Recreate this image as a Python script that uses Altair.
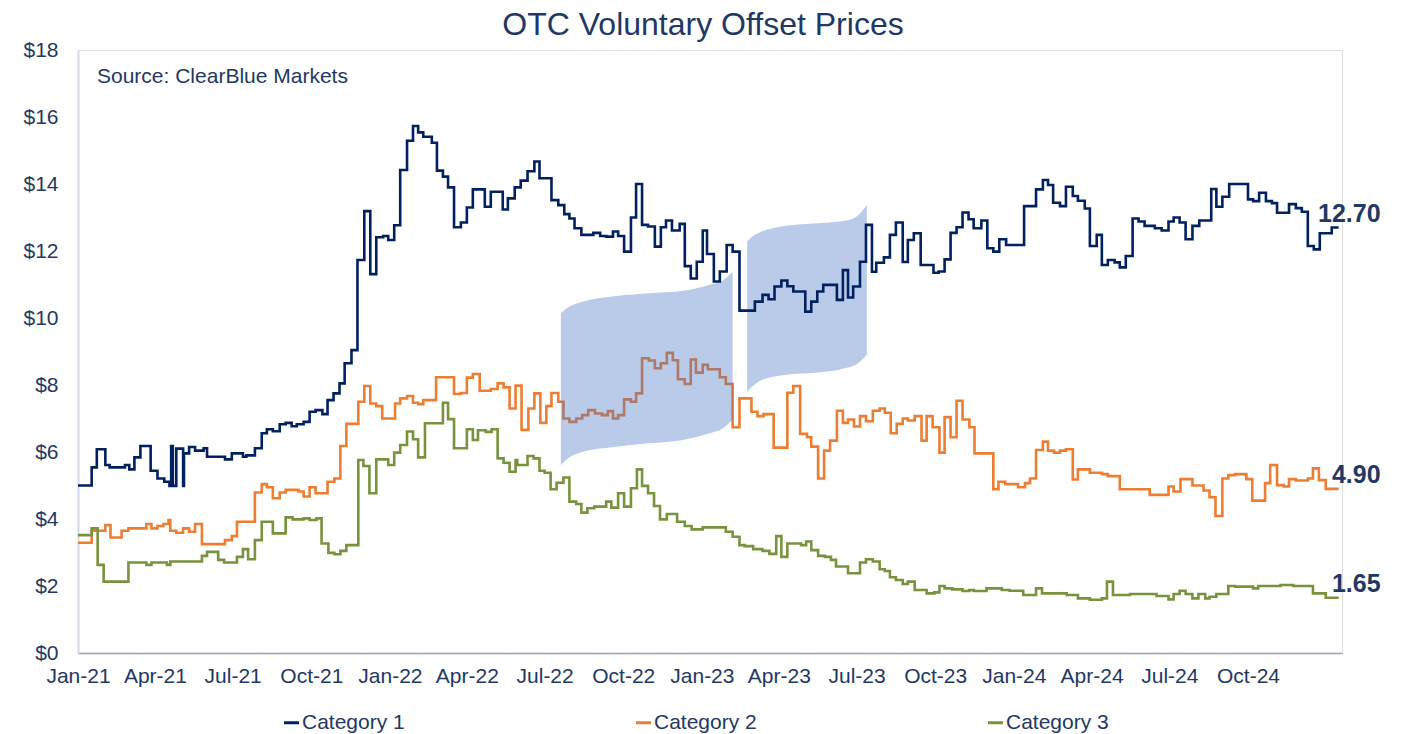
import altair as alt
import pandas as pd

START = pd.Timestamp("2021-01-01")
FONT = "Liberation Sans"
NAVY_TXT = "#1F3864"

# ---- data: change points (days since 2021-01-01, price in $) ----
cat1_day = [0, 16, 22, 32, 37, 55, 60, 66, 73, 85, 93, 101, 107, 109, 111, 115, 123, 124, 130, 137,
            147, 151, 172, 180, 193, 197, 207, 215, 221, 228, 236, 243, 250, 256, 264, 271, 278, 286, 292, 299,
            306, 312, 320, 327, 335, 342, 349, 357, 363, 370, 377, 385, 392, 398, 404, 414, 420, 427, 433, 440,
            448, 455, 462, 476, 483, 497, 503, 511, 518, 526, 534, 540, 554, 562, 569, 575, 581, 589, 603, 611,
            618, 626, 632, 639, 647, 653, 660, 667, 675, 682, 688, 695, 704, 710, 717, 724, 731, 736, 744, 751,
            759, 766, 774, 792, 801, 808, 815, 823, 830, 837, 851, 858, 865, 872, 888, 895, 901, 907, 915, 922,
            929, 934, 943, 950, 957, 965, 971, 978, 986, 1001, 1007, 1014, 1021, 1028, 1035, 1042, 1048, 1057, 1064, 1071,
            1078, 1086, 1107, 1121, 1129, 1135, 1141, 1149, 1156, 1164, 1170, 1178, 1184, 1192, 1198, 1205, 1213, 1219, 1226, 1234,
            1241, 1248, 1260, 1268, 1276, 1282, 1289, 1296, 1304, 1312, 1326, 1332, 1339, 1347, 1369, 1375, 1382, 1390, 1397, 1403,
            1417, 1425, 1432, 1439, 1446, 1453, 1467, 1475]
cat1_val = [5.00, 5.54, 6.08, 5.61, 5.54, 5.61, 5.48, 5.84, 6.18, 5.44, 5.21, 5.11, 4.99, 6.18, 4.99, 6.10, 4.99, 5.96, 6.15, 6.04,
            6.11, 5.86, 5.78, 5.96, 5.86, 5.90, 6.11, 6.56, 6.68, 6.62, 6.83, 6.87, 6.77, 6.83, 6.90, 7.20, 7.25, 7.13, 7.55, 7.75,
            8.05, 8.65, 9.04, 11.73, 13.19, 11.31, 12.41, 12.45, 12.33, 12.77, 14.42, 15.29, 15.73, 15.54, 15.41, 15.23, 14.40, 14.22, 13.90, 12.71,
            12.85, 13.30, 13.84, 13.32, 13.77, 13.24, 13.57, 13.90, 14.10, 14.38, 14.67, 14.17, 13.52, 13.37, 13.10, 12.97, 12.68, 12.48, 12.54, 12.45,
            12.43, 12.58, 12.45, 11.98, 13.00, 14.00, 12.78, 12.73, 12.13, 12.71, 12.91, 12.61, 12.81, 11.55, 11.18, 11.68, 12.61, 11.91, 11.09, 11.39,
            12.18, 11.98, 10.22, 10.49, 10.69, 10.56, 10.94, 11.12, 10.95, 10.79, 10.19, 10.49, 10.79, 10.99, 10.54, 11.43, 10.61, 10.94, 11.68, 12.78,
            11.38, 11.65, 11.81, 12.48, 12.85, 11.67, 12.33, 12.53, 11.58, 11.35, 11.39, 11.75, 12.54, 12.71, 13.15, 12.95, 12.68, 12.91, 12.08, 11.98,
            12.35, 12.18, 13.34, 13.84, 14.12, 13.97, 13.44, 13.34, 13.92, 13.64, 13.50, 13.27, 12.15, 12.48, 11.58, 11.73, 11.66, 11.51, 11.85, 12.97,
            12.88, 12.75, 12.68, 12.61, 12.88, 13.00, 12.85, 12.35, 12.75, 12.91, 13.85, 13.32, 13.62, 14.00, 13.54, 13.49, 13.74, 13.49, 13.43, 13.14,
            13.40, 13.28, 13.17, 12.15, 12.05, 12.53, 12.70, 12.70]

cat2_day = [0, 16, 32, 38, 51, 59, 80, 86, 93, 100, 106, 108, 115, 123, 130, 137, 145, 172, 180, 186,
            207, 215, 221, 228, 236, 243, 258, 264, 271, 278, 292, 300, 307, 314, 328, 335, 342, 349, 356, 371,
            377, 385, 392, 398, 404, 419, 440, 448, 455, 462, 470, 483, 491, 498, 505, 512, 519, 527, 534, 541,
            548, 554, 562, 568, 575, 583, 590, 597, 605, 613, 620, 626, 632, 639, 647, 653, 660, 668, 675, 682,
            689, 696, 702, 710, 717, 723, 731, 737, 751, 758, 766, 774, 788, 795, 802, 814, 830, 837, 845, 853,
            858, 866, 873, 880, 888, 895, 901, 908, 915, 922, 930, 938, 944, 951, 958, 965, 971, 979, 987, 993,
            1000, 1008, 1014, 1021, 1028, 1035, 1043, 1049, 1071, 1077, 1085, 1100, 1108, 1114, 1121, 1129, 1135, 1142, 1149, 1156,
            1164, 1170, 1184, 1198, 1205, 1219, 1254, 1276, 1282, 1290, 1304, 1317, 1324, 1331, 1339, 1346, 1354, 1367, 1374, 1389,
            1395, 1403, 1411, 1417, 1425, 1439, 1445, 1452, 1460, 1475]
cat2_val = [3.29, 3.65, 3.82, 3.45, 3.65, 3.72, 3.85, 3.72, 3.79, 3.85, 3.97, 3.65, 3.59, 3.72, 3.62, 3.85, 3.25, 3.37, 3.49, 3.92,
            4.79, 5.04, 4.95, 4.62, 4.79, 4.87, 4.82, 4.67, 4.95, 4.77, 5.11, 5.21, 6.18, 6.84, 7.50, 7.97, 7.45, 7.37, 7.00, 7.45,
            7.60, 7.67, 7.47, 7.43, 7.55, 8.23, 7.73, 7.76, 8.22, 8.33, 7.83, 7.88, 8.05, 7.93, 7.30, 7.98, 6.66, 7.30, 7.75, 6.87,
            7.37, 7.76, 7.50, 7.00, 6.90, 7.00, 7.10, 7.25, 7.15, 7.10, 7.22, 7.00, 7.10, 7.57, 7.50, 7.75, 8.80, 8.73, 8.50, 8.65,
            8.96, 8.74, 8.17, 8.03, 8.76, 8.37, 8.60, 8.47, 8.23, 8.03, 6.74, 7.60, 7.20, 7.07, 7.13, 6.13, 7.77, 7.97, 6.54, 6.44,
            6.16, 5.21, 6.04, 6.34, 7.23, 6.87, 6.97, 6.76, 7.07, 6.92, 7.23, 7.30, 7.17, 6.56, 6.84, 7.00, 6.94, 7.07, 6.34, 7.07,
            6.74, 5.98, 7.04, 6.44, 7.53, 6.97, 6.74, 5.96, 4.89, 5.11, 5.04, 4.95, 5.07, 5.21, 6.06, 6.31, 6.04, 5.98, 6.04, 6.08,
            5.18, 5.48, 5.38, 5.34, 5.28, 4.89, 4.72, 4.97, 4.82, 5.19, 5.00, 4.85, 4.65, 4.09, 5.21, 5.31, 5.34, 5.19, 4.55, 5.07,
            5.61, 5.01, 4.97, 5.19, 5.15, 5.21, 5.51, 5.16, 4.90, 4.90]

cat3_day = [0, 16, 23, 30, 59, 80, 86, 104, 108, 145, 151, 164, 171, 186, 193, 199, 207, 215, 228, 243,
            251, 264, 271, 279, 285, 293, 300, 307, 314, 328, 334, 341, 349, 363, 370, 377, 385, 392, 398, 406,
            427, 433, 440, 455, 462, 468, 477, 484, 491, 498, 505, 512, 514, 526, 533, 540, 546, 553, 560, 568,
            575, 583, 589, 596, 604, 618, 624, 632, 639, 647, 654, 660, 667, 674, 681, 689, 701, 710, 718, 731,
            758, 766, 774, 780, 790, 801, 809, 817, 823, 830, 846, 852, 858, 866, 874, 881, 887, 901, 915, 922,
            930, 938, 944, 950, 957, 965, 971, 979, 993, 1002, 1008, 1014, 1023, 1035, 1043, 1048, 1063, 1081, 1090, 1106,
            1121, 1128, 1157, 1170, 1184, 1198, 1204, 1211, 1231, 1262, 1276, 1282, 1289, 1296, 1304, 1311, 1319, 1324, 1332, 1346,
            1354, 1375, 1381, 1407, 1422, 1445, 1460, 1475]
cat3_val = [3.52, 3.72, 2.63, 2.13, 2.70, 2.63, 2.70, 2.63, 2.73, 2.90, 3.02, 2.78, 2.70, 2.87, 3.10, 2.80, 3.37, 3.92, 3.57, 4.05,
            3.99, 4.02, 3.97, 4.02, 3.27, 2.99, 2.95, 3.05, 3.22, 5.76, 5.58, 4.77, 5.78, 5.61, 5.98, 6.21, 6.61, 6.38, 5.84, 6.86,
            7.47, 6.98, 6.11, 6.68, 6.36, 6.65, 6.60, 6.68, 5.81, 5.68, 5.41, 5.76, 5.61, 5.88, 5.81, 5.44, 5.38, 4.89, 5.08, 5.24,
            4.52, 4.45, 4.19, 4.32, 4.37, 4.52, 4.34, 4.77, 4.37, 4.92, 5.48, 4.99, 4.77, 4.39, 3.99, 4.15, 3.92, 3.79, 3.69, 3.75,
            3.62, 3.47, 3.22, 3.19, 3.10, 3.05, 2.96, 3.49, 2.87, 3.27, 3.22, 3.33, 3.07, 2.90, 2.87, 2.78, 2.58, 2.38, 2.70, 2.80,
            2.73, 2.50, 2.45, 2.26, 2.18, 2.06, 2.13, 1.88, 1.78, 1.81, 2.00, 1.93, 1.90, 1.85, 1.88, 1.85, 1.93, 1.88, 1.86, 1.73,
            1.93, 1.78, 1.73, 1.63, 1.59, 1.63, 2.13, 1.73, 1.76, 1.70, 1.60, 1.76, 1.86, 1.76, 1.63, 1.76, 1.63, 1.68, 1.76, 2.00,
            1.98, 1.93, 2.00, 2.03, 2.00, 1.78, 1.65, 1.65]

series_names = ["Category 1", "Category 2", "Category 3"]
series_colors = ["#002060", "#ED7D31", "#77933C"]
end_labels = ["12.70", "4.90", "1.65"]

# highlight "flag" shapes (days since start, top $ / bottom $)
flag1_day = [565, 572, 591, 630, 669, 708, 739, 755, 766]
flag1_top = [10.14, 10.29, 10.49, 10.66, 10.74, 10.81, 10.99, 11.13, 11.38]
flag1_bot = [5.61, 5.78, 6.01, 6.16, 6.26, 6.36, 6.56, 6.71, 6.96]
flag2_day = [783, 788, 800, 827, 866, 897, 913, 923]
flag2_top = [12.28, 12.41, 12.58, 12.75, 12.83, 12.90, 13.07, 13.37]
flag2_bot = [7.80, 7.93, 8.15, 8.30, 8.37, 8.50, 8.65, 8.90]

title_text = "OTC Voluntary Offset Prices"
source_text = "Source: ClearBlue Markets"


def to_dates(days):
    return START + pd.to_timedelta(days, unit="D")


lines = pd.concat([
    pd.DataFrame({"series": n, "date": to_dates(d), "price": v})
    for n, d, v in [(series_names[0], cat1_day, cat1_val),
                    (series_names[1], cat2_day, cat2_val),
                    (series_names[2], cat3_day, cat3_val)]
], ignore_index=True)

ends = pd.DataFrame({
    "series": series_names,
    "date": to_dates([cat1_day[-1], cat2_day[-1], cat3_day[-1]]),
    "price": [cat1_val[-1], cat2_val[-1], cat3_val[-1]],
    "label": end_labels,
})

flags = pd.concat([
    pd.DataFrame({"shape": "A", "date": to_dates(flag1_day), "top": flag1_top, "bottom": flag1_bot}),
    pd.DataFrame({"shape": "B", "date": to_dates(flag2_day), "top": flag2_top, "bottom": flag2_bot}),
], ignore_index=True)

tick_dates = [alt.DateTime(year=y, month=m, date=1)
              for y in [2021, 2022, 2023, 2024] for m in [1, 4, 7, 10]]

xscale = alt.Scale(domain=[alt.DateTime(year=2021, month=1, date=1),
                           alt.DateTime(year=2025, month=1, date=19)])
yscale = alt.Scale(domain=[0, 18], nice=False)

xaxis = alt.Axis(values=tick_dates, format="%b-%y", title=None, grid=False, ticks=False,
                 labelFontSize=21, labelFont=FONT, labelColor=NAVY_TXT, labelPadding=12,
                 labelFlush=False, labelOverlap=False,
                 domainColor="#9A9EB6", domainWidth=1.5)
yaxis = alt.Axis(values=list(range(0, 19, 2)), labelExpr="'$' + datum.value", title=None,
                 grid=False, ticks=False, labelFontSize=21, labelFont=FONT, labelColor=NAVY_TXT,
                 labelPadding=20, domainColor="#D3D9E8", domainWidth=2)

color = alt.Color("series:N",
                  scale=alt.Scale(domain=series_names, range=series_colors),
                  legend=alt.Legend(orient="none", legendX=203, legendY=662, direction="horizontal",
                                    title=None, symbolType="stroke", symbolStrokeWidth=3,
                                    symbolSize=225, labelFontSize=21, labelFont=FONT,
                                    labelColor=NAVY_TXT, labelOffset=0, columnPadding=225))

base = alt.Chart(lines).mark_line(interpolate="step-after", strokeWidth=2.6).encode(
    x=alt.X("date:T", scale=xscale, axis=xaxis),
    y=alt.Y("price:Q", scale=yscale, axis=yaxis),
    color=color,
)

lower = base.transform_filter(alt.datum.series != series_names[0])
upper = base.transform_filter(alt.datum.series == series_names[0])

shapes = alt.Chart(flags).mark_area(interpolate="monotone", color="#4472C4", opacity=0.37).encode(
    x=alt.X("date:T", scale=xscale, axis=xaxis),
    y=alt.Y("top:Q", scale=yscale, axis=yaxis),
    y2="bottom:Q",
    detail="shape:N",
)

labels = alt.Chart(ends).mark_text(align="right", baseline="middle", dx=42, dy=-14,
                                   fontSize=25, fontWeight="bold", font=FONT,
                                   color=NAVY_TXT).encode(
    x=alt.X("date:T", scale=xscale, axis=xaxis),
    y=alt.Y("price:Q", scale=yscale, axis=yaxis),
    text="label:N",
)

source = alt.Chart(pd.DataFrame({"t": [source_text]})).mark_text(
    align="left", baseline="alphabetic", fontSize=21, font=FONT, color=NAVY_TXT
).encode(text="t:N", x=alt.value(19), y=alt.value(33))

chart = alt.layer(lower, shapes, upper, labels, source).properties(
    width=1264,
    height=603,
    title=alt.TitleParams(title_text, fontSize=32, font=FONT, fontWeight="normal",
                          color=NAVY_TXT, anchor="middle", offset=-3, dx=-7),
    autosize=alt.AutoSizeParams(type="none"),
    padding={"left": 70, "top": 42, "right": 55, "bottom": 81},
).configure_view(stroke=None).configure(background="white")

chart.save("out.html", embed_options={"renderer": "svg", "actions": False})
